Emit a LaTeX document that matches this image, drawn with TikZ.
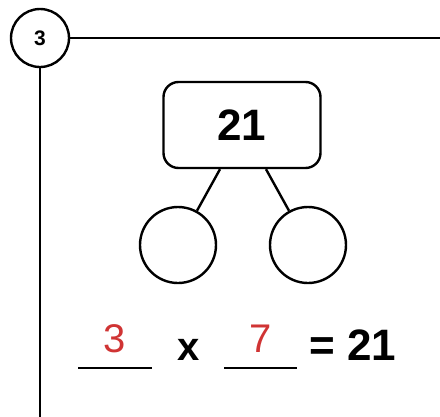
\documentclass[tikz,border=0pt]{standalone}
\usepackage{fontspec}
\setmainfont{Liberation Sans}
\usetikzlibrary{positioning,calc}
\definecolor{answer}{HTML}{D03434}
\tikzset{
  frameline/.style={line width=2.4pt,line cap=rect},
  leafcircle/.style={draw,circle,line width=2.4pt,minimum size=76pt,inner sep=0pt},
  blankline/.style={line width=2.6pt}
}

\begin{document}
\begin{tikzpicture}[x=1pt,y=-1pt]
      \useasboundingbox (0,0) rectangle (440,416);
      % task number and frame
      \node[draw,circle,line width=2.4pt,minimum size=58pt,inner sep=0pt,
            font=\fontsize{21}{23}\selectfont\bfseries] (num) at (40,38) {3};
      \coordinate (topend) at (440,38);
      \coordinate (leftend) at (40,416);
      \draw[frameline] (num.east)--(topend);
      \draw[frameline] (num.south)--(leftend);
      % number bond
      \node[draw,rounded corners=15pt,line width=2.4pt,minimum width=157pt,
            minimum height=86pt,font=\fontsize{44}{48}\selectfont\bfseries] (prod)
        at (242,125) {21};
      \node[leafcircle] (fa) at (178,245) {};
      \node[leafcircle] (fb) at (308,245) {};
      \draw[line width=2.4pt] ([xshift=-22pt]prod.south)--(fa);
      \draw[line width=2.4pt] ([xshift=24pt]prod.south)--(fb);
      % equation
      \coordinate (ua) at (78,368);
      \coordinate (ub) at (152,368);
      \coordinate (uc) at (224,368);
      \coordinate (ud) at (297,368);
      \draw[blankline] (ua)--(ub);
      \draw[blankline] (uc)--(ud);
      \node[anchor=base,text=answer,font=\fontsize{40}{44}\selectfont] (fx)
        at (115,352) {3};
      \node[anchor=base,text=answer,font=\fontsize{40}{44}\selectfont] (fy)
        at (261,352) {7};
      \node[anchor=base,font=\fontsize{40}{44}\selectfont\bfseries] (times)
        at (189,360) {x};
      \node[anchor=base,font=\fontsize{44}{48}\selectfont\bfseries] (res)
        at (353,360) {= 21};
    \end{tikzpicture}
\end{document}
